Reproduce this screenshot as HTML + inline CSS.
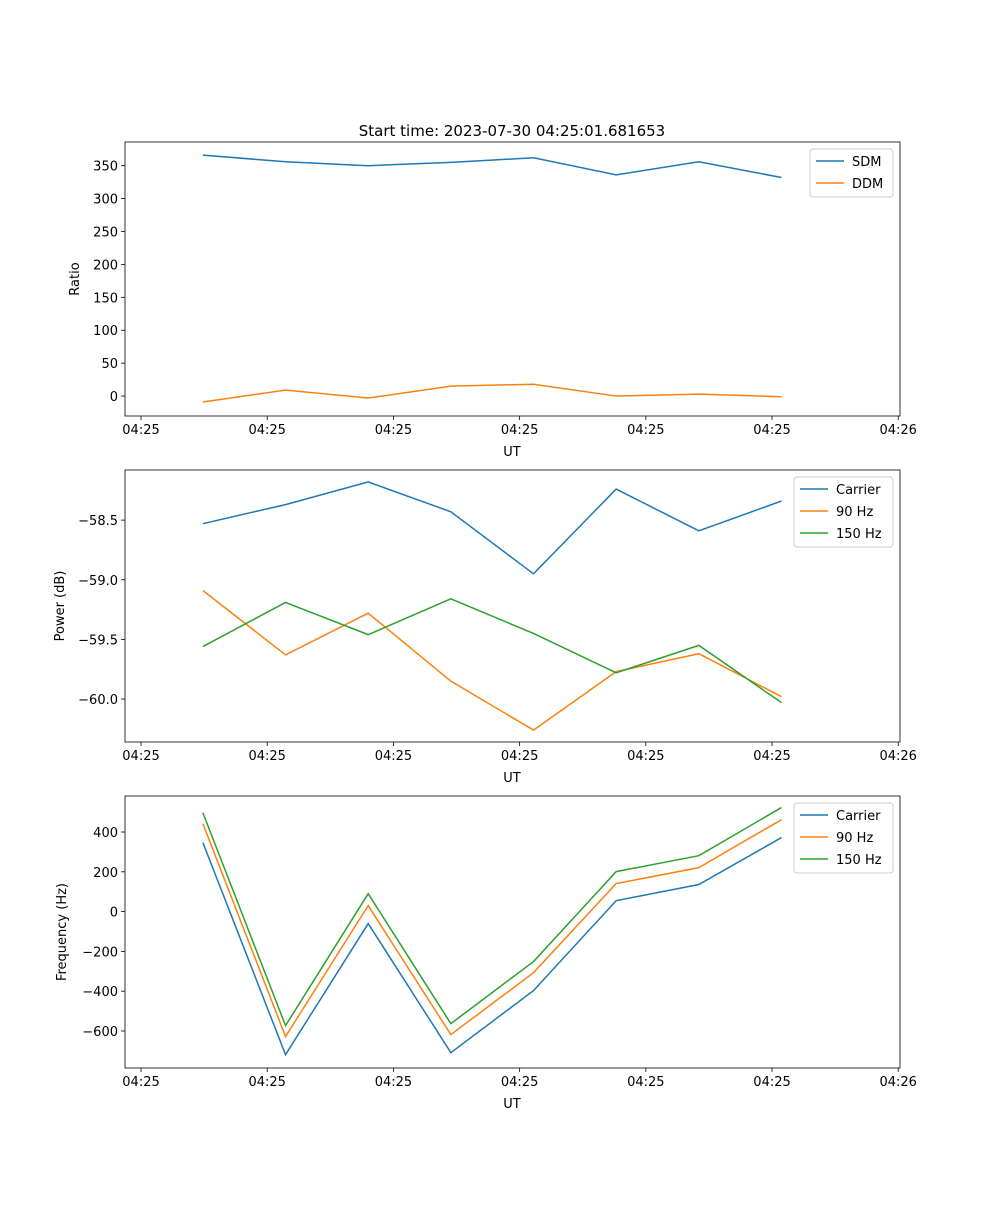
<!DOCTYPE html>
<html><head><meta charset="utf-8"><style>
body{margin:0;background:#fff}
svg text{font-family:"DejaVu Sans","Liberation Sans",sans-serif;font-size:13px;fill:#000}
</style></head><body>
<svg id="fig" width="1000" height="1200">
<text x="512" y="136" text-anchor="middle" font-size="15" style="font-size:15px">Start time: 2023-07-30 04:25:01.681653</text>
</svg>
<script>
const times=[0.49,1.145,1.80,2.455,3.11,3.765,4.42,5.075];
const xTicks=[0,1,2,3,4,5,6];
const xTickLabels=["04:25","04:25","04:25","04:25","04:25","04:25","04:26"];
const sdm=[366,356,350,355,362,336,356,332];
const ddm=[-9,9,-3,15,18,0,3,-1];
const pCarrier=[-58.53,-58.37,-58.18,-58.43,-58.95,-58.24,-58.59,-58.34];
const p90=[-59.09,-59.63,-59.28,-59.85,-60.26,-59.77,-59.62,-59.98];
const p150=[-59.56,-59.19,-59.46,-59.16,-59.45,-59.78,-59.55,-60.03];
const fCarrier=[347,-719,-60,-709,-397,55,136,372];
const f90=[442,-628,30,-618,-307,141,221,462];
const f150=[497,-573,90,-563,-251,201,281,523];
const ratioTicks=[0,50,100,150,200,250,300,350];
const powerTicks=[-60.0,-59.5,-59.0,-58.5];
const freqTicks=[-600,-400,-200,0,200,400];
const C=["#1f77b4","#ff7f0e","#2ca02c"];
const NS="http://www.w3.org/2000/svg";
const svg=document.getElementById('fig');
function mk(tag,attrs,parent){const e=document.createElementNS(NS,tag);for(const k in attrs)e.setAttribute(k,attrs[k]);(parent||svg).appendChild(e);return e;}
const X0=125,X1=900,TMIN=-0.127,TMAX=6.014;
function xs(t){return X0+(t-TMIN)/(TMAX-TMIN)*(X1-X0);}
function panel(name,top,bot,ymin,ymax,ticks,fmt,ylabel,ylx,series,labels,leg){
  const g=mk('g',{});
  
  
  const ys=v=>bot-(v-ymin)/(ymax-ymin)*(bot-top);
  series.forEach((s,i)=>{
    const p=mk('polyline',{points:s.map((v,j)=>xs(times[j])+','+ys(v)).join(' '),fill:'none',stroke:C[i],'stroke-width':1.5},g);
    
    
  });
  const fr=mk('rect',{x:X0,y:top,width:X1-X0,height:bot-top,fill:'none',stroke:'#000','stroke-width':0.8},g);
  
  
  xTicks.forEach((t,i)=>{
    mk('line',{x1:xs(t),x2:xs(t),y1:bot,y2:bot+4,stroke:'#000','stroke-width':0.8},g);
    const tx=mk('text',{x:xs(t),y:bot+18,'text-anchor':'middle'},g);tx.textContent=xTickLabels[i];
    
    
  });
  ticks.forEach(v=>{
    mk('line',{x1:X0-4,x2:X0,y1:ys(v),y2:ys(v),stroke:'#000','stroke-width':0.8},g);
    const tx=mk('text',{x:X0-7,y:ys(v)+5,'text-anchor':'end'},g);tx.textContent=fmt(v);
    
    
  });
  const xl=mk('text',{x:512,y:bot+40,'text-anchor':'middle'},g);xl.textContent='UT';
  
  
  const cy=(top+bot)/2;
  const yl=mk('text',{x:ylx,y:cy,'text-anchor':'middle',transform:'rotate(-90 '+ylx+' '+cy+')'},g);yl.textContent=ylabel;
  
  
  const lg=mk('g',{},g);
  
  
  mk('rect',{x:leg[0],y:top+7,width:893-leg[0],height:labels.length*22+4,rx:3,fill:'#fff',stroke:'#ccc'},lg);
  labels.forEach((l,i)=>{
    const y=top+19+i*22;
    mk('line',{x1:leg[0]+6,x2:leg[0]+34,y1:y,y2:y,stroke:C[i],'stroke-width':1.5},lg);
    const t=mk('text',{x:leg[0]+42,y:y+5},lg);t.textContent=l;
    
    
  });
}
const minus=s=>s.replace('-','\u2212');
panel('ratio',142,416,-30.3,386,ratioTicks,v=>minus(String(v)),'Ratio',79,[sdm,ddm],['SDM','DDM'],[810]);
panel('power',470,742,-60.36,-58.08,powerTicks,v=>minus(v.toFixed(1)),'Power (dB)',64,[pCarrier,p90,p150],['Carrier','90 Hz','150 Hz'],[794]);
panel('frequency',796,1068,-786,581,freqTicks,v=>minus(String(v)),'Frequency (Hz)',66,[fCarrier,f90,f150],['Carrier','90 Hz','150 Hz'],[794]);
</script>
</body></html>
